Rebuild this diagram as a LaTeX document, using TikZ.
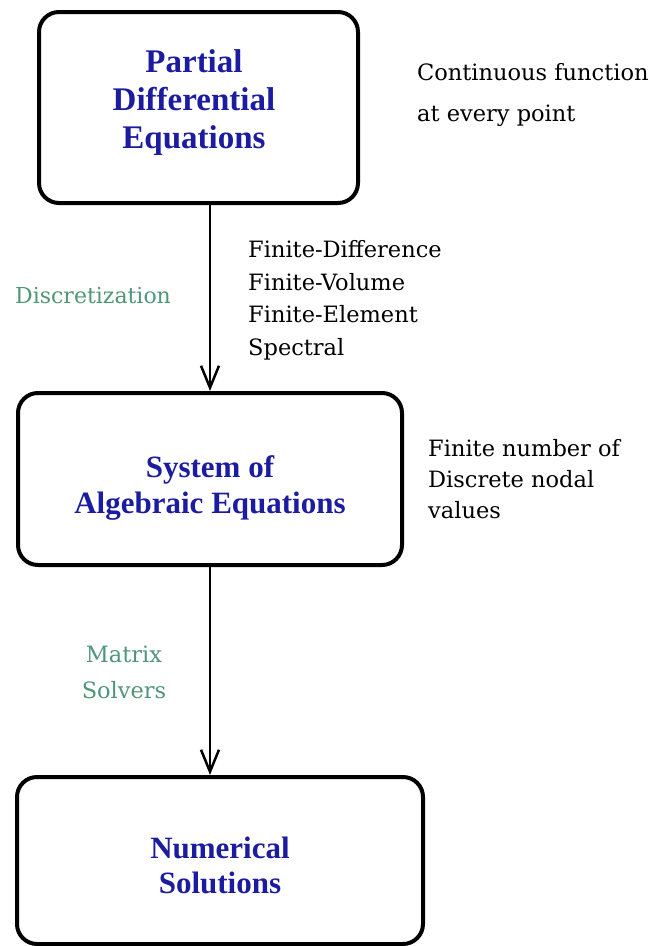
\documentclass[tikz,border=0pt]{standalone}
\usepackage{fontspec}
\setmainfont{DejaVu Serif}
\newfontfamily\boxfont{Liberation Serif}
\usetikzlibrary{arrows.meta}
\definecolor{boxblue}{RGB}{28,28,160}
\definecolor{labgreen}{RGB}{80,150,120}
\begin{document}
\begin{tikzpicture}[x=1pt,y=-1pt,
  stage/.style={draw, line width=4pt, rounded corners=20pt, fill=white, inner sep=0pt},
  title/.style={align=center, anchor=base, inner sep=0pt, text=boxblue},
  note/.style={align=left, anchor=base west, inner sep=0pt},
  method/.style={text=labgreen, inner sep=0pt},
  flow/.style={line width=2.5pt, -{Straight Barb[length=22pt,width=18pt]}}
]
\useasboundingbox (0,0) rectangle (656,946);
\fill[white] (0,0) rectangle (656,946);
\coordinate (ax) at (210,0);
% boxes
\node[stage, minimum width=319pt, minimum height=191pt] (pde) at (198.5,107.5) {};
\node[stage, minimum width=384pt, minimum height=172pt] (sae) at (210,479) {};
\node[stage, minimum width=406pt, minimum height=167pt] (num) at (220,860.5) {};
% box titles (anchored at last baseline)
\node[title, font=\boxfont\bfseries\fontsize{33}{38}\selectfont] (pdet) at (194,148) {Partial\\Differential\\Equations};
\node[title, font=\boxfont\bfseries\fontsize{31}{36}\selectfont] (saet) at (210,513) {System of\\Algebraic Equations};
\node[title, font=\boxfont\bfseries\fontsize{31}{35}\selectfont] (numt) at (220,893) {Numerical\\Solutions};
% connectors
\draw[flow] (ax |- pde.south) -- (ax |- sae.north);
\draw[flow] (ax |- sae.south) -- (ax |- num.north);
% side notes (anchored at last baseline)
\node[note, font=\fontsize{22.5}{41}\selectfont] (cont) at (417,121) {Continuous function\\at every point};
\node[note, font=\fontsize{22.5}{32.5}\selectfont] (meth) at (248,355) {Finite-Difference\\Finite-Volume\\Finite-Element\\Spectral};
\node[note, font=\fontsize{22.5}{31}\selectfont] (fin) at (428,518) {Finite number of\\Discrete nodal\\values};
\node[method, anchor=base west, font=\fontsize{22}{36}\selectfont] (disc) at (15,303) {Discretization};
\node[method, anchor=base, align=center, font=\fontsize{22.5}{36}\selectfont] (mat) at (124,698) {Matrix\\Solvers};
\end{tikzpicture}
\end{document}
